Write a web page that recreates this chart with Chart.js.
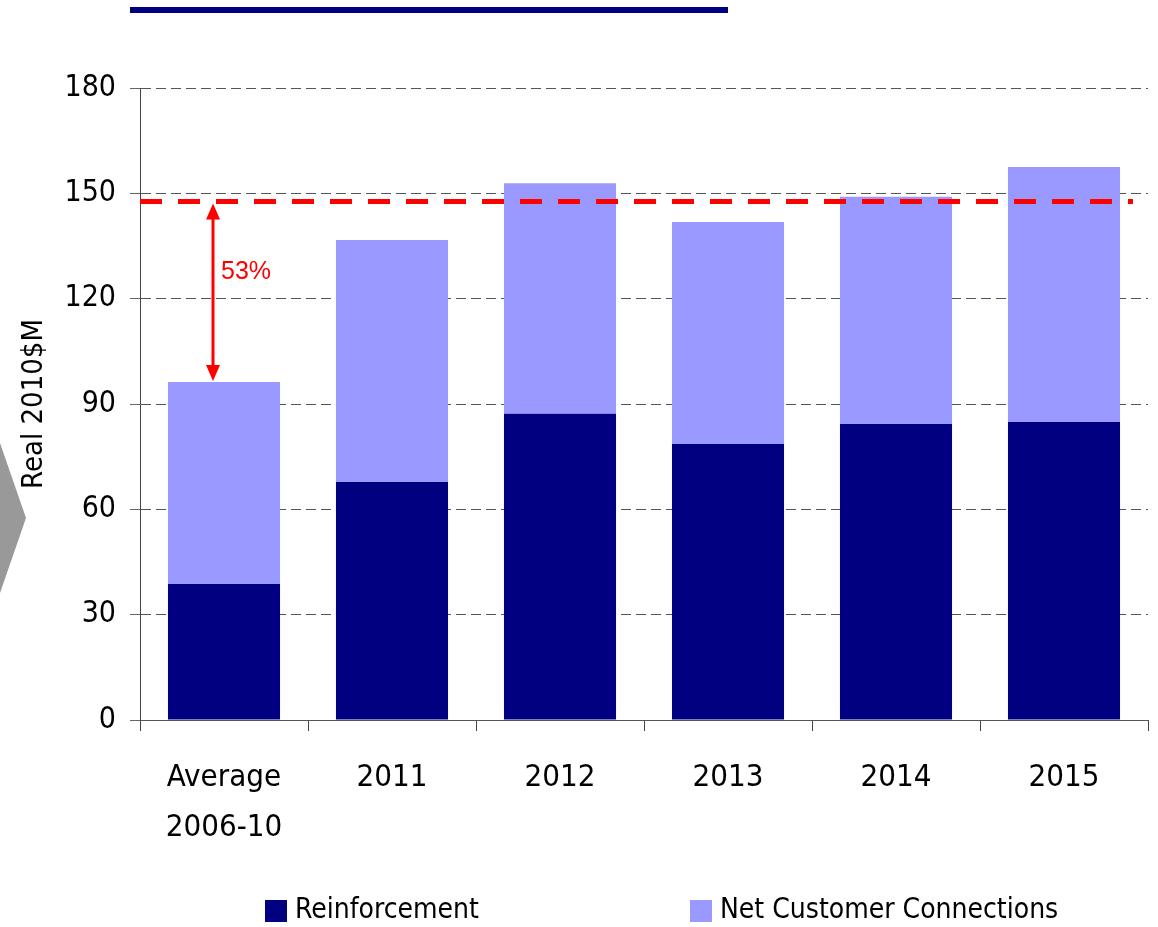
<!DOCTYPE html>
<html lang="en">
<head>
<meta charset="UTF-8">
<title>Reinforcement and Net Customer Connections</title>
<script src="https://cdn.jsdelivr.net/npm/chart.js"></script>
    <style>
        * {
        margin: 0;
        padding: 0;
        box-sizing: border-box;
        }

        html, body {
        background-color: #fff;
        overflow: hidden;
        }

        .wrap {
        position: relative;
        width: 1158px;
        height: 927px;
        }
    </style>
</head>
<body>

<div class="wrap">
    <canvas id="chart" width="1158" height="927"></canvas>
</div>

<script>
    // data
    const categories = [['Average', '2006-10'], '2011', '2012', '2013', '2014', '2015'];
    const reinforcement = [38.7, 67.8, 87.2, 78.6, 84.3, 84.9];
    const netCustomer = [57.6, 68.9, 65.7, 63.2, 64.7, 72.6];
    const seriesNames = ['Reinforcement', 'Net Customer Connections'];
    const targetLevel = 147.7;
    const growthText = '53%';
    const yMin = 0, yMax = 180, yStep = 30;

    const NARROW = "'Liberation Sans Narrow', 'DejaVu Sans Condensed', sans-serif";
    const NAVY = '#000080';
    const LILAC = '#9999ff';
    const RED = '#ff0000';

    // decorations: top rule, side chevron, red target line with arrow, legend
    const extras = {
        id: 'extras',
        beforeDraw(chart) {
            const ctx = chart.ctx;
            ctx.save();
            ctx.fillStyle = '#fff';
            ctx.fillRect(0, 0, chart.width, chart.height);
            // top rule
            ctx.fillStyle = NAVY;
            ctx.fillRect(130, 7, 598, 6);
            // grey chevron at the left
            ctx.fillStyle = '#999999';
            ctx.beginPath();
            ctx.moveTo(0, 443);
            ctx.lineTo(26, 518);
            ctx.lineTo(0, 593);
            ctx.closePath();
            ctx.fill();
            ctx.restore();
        },
        afterDatasetsDraw(chart) {
            const ctx = chart.ctx;
            const x = chart.scales.x, y = chart.scales.y;
            const area = chart.chartArea;
            const yLine = y.getPixelForValue(targetLevel);

            ctx.save();
            // red dashed target line
            ctx.strokeStyle = RED;
            ctx.lineWidth = 5;
            ctx.setLineDash([22, 16]);
            ctx.beginPath();
            ctx.moveTo(area.left, yLine);
            ctx.lineTo(area.right - 15, yLine);
            ctx.stroke();
            ctx.setLineDash([]);

            // double arrow from first bar top to target line
            const ax = x.getPixelForValue(0) - 11;
            const yTop = yLine + 2;
            const yBot = y.getPixelForValue(reinforcement[0] + netCustomer[0]) - 1;
            const head = 16, half = 7;
            ctx.lineWidth = 3;
            ctx.beginPath();
            ctx.moveTo(ax, yTop + head - 2);
            ctx.lineTo(ax, yBot - head + 2);
            ctx.stroke();
            ctx.fillStyle = RED;
            ctx.beginPath();
            ctx.moveTo(ax, yTop);
            ctx.lineTo(ax - half, yTop + head);
            ctx.lineTo(ax + half, yTop + head);
            ctx.closePath();
            ctx.fill();
            ctx.beginPath();
            ctx.moveTo(ax, yBot);
            ctx.lineTo(ax - half, yBot - head);
            ctx.lineTo(ax + half, yBot - head);
            ctx.closePath();
            ctx.fill();

            ctx.font = "25px 'Liberation Sans', Arial, sans-serif";
            ctx.textAlign = 'left';
            ctx.textBaseline = 'middle';
            ctx.fillText(growthText, ax + 8, y.getPixelForValue(127.5));
            ctx.restore();
        },
        afterDraw(chart) {
            const ctx = chart.ctx;
            const slots = [265, 690];
            ctx.save();
            ctx.font = '28px ' + NARROW;
            ctx.textAlign = 'left';
            ctx.textBaseline = 'middle';
            chart.data.datasets.forEach((ds, i) => {
                ctx.fillStyle = ds.backgroundColor;
                ctx.fillRect(slots[i], 900, 22, 22);
                ctx.fillStyle = '#000';
                ctx.fillText(ds.label, slots[i] + 30, 911);
            });
            ctx.restore();
        }
    };

    const ctx = document.getElementById('chart').getContext('2d');
    const chart = new Chart(ctx, {
        type: 'bar',
        data: {
            labels: categories,
            datasets: [{
                label: seriesNames[0],
                data: reinforcement,
                backgroundColor: NAVY,
                barPercentage: 0.667,
                categoryPercentage: 1
            }, {
                label: seriesNames[1],
                data: netCustomer,
                backgroundColor: LILAC,
                barPercentage: 0.667,
                categoryPercentage: 1
            }]
        },
        options: {
            responsive: false,
            animation: false,
            layout: {
                padding: { left: 0, right: 10, top: 88, bottom: 77 }
            },
            plugins: {
                legend: { display: false },
                tooltip: { enabled: false }
            },
            scales: {
                x: {
                    stacked: true,
                    afterFit(scale) { scale.height = 130; },
                    grid: {
                        drawOnChartArea: false,
                        drawTicks: true,
                        tickLength: 11,
                        tickColor: '#444',
                        offset: true
                    },
                    border: { color: '#555', width: 1 },
                    ticks: {
                        color: '#000',
                        padding: 22,
                        maxRotation: 0,
                        font: { family: NARROW, size: 31, lineHeight: 1.62 }
                    }
                },
                y: {
                    stacked: true,
                    min: yMin,
                    max: yMax,
                    afterFit(scale) { scale.width = 140; },
                    grid: {
                        color: '#555',
                        lineWidth: 1,
                        tickLength: 10,
                        tickColor: '#666',
                        tickBorderDash: []
                    },
                    border: { color: '#444', width: 1, dash: [10, 5] },
                    ticks: {
                        stepSize: yStep,
                        color: '#000',
                        padding: 14,
                        font: { family: NARROW, size: 30 }
                    },
                    title: {
                        display: true,
                        text: 'Real 2010$M',
                        color: '#000',
                        padding: { top: 17, bottom: 0 },
                        font: { family: NARROW, size: 29, lineHeight: 1.2 }
                    }
                }
            }
        },
        plugins: [extras]
    });
</script>
</body>
</html>
